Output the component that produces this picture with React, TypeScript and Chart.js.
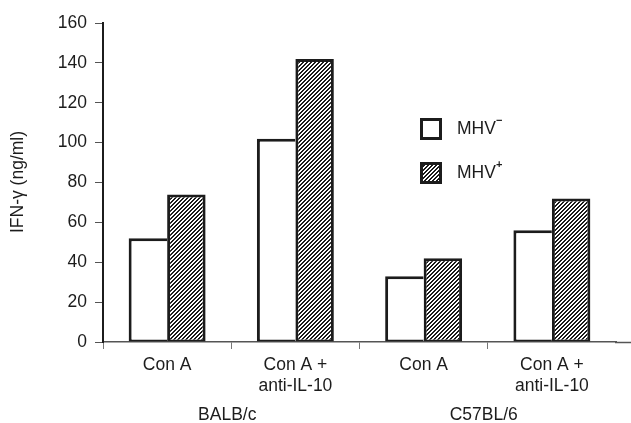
import React, { useEffect, useRef } from "react";
import { Chart, registerables } from "chart.js";

Chart.register(...registerables);

const categories: string[][] = [["Con A"], ["Con A +", "anti-IL-10"], ["Con A"], ["Con A +", "anti-IL-10"]];
const mhvMinus = [52, 102, 33, 56];
const mhvPlus = [74, 142, 42, 72];
const groups = ["BALB/c", "C57BL/6"];
const seriesNames = ["MHV", "MHV"];
const seriesSup = ["\u2212", "+"];
const yTitle = "IFN-\u03b3 (ng/ml)";
const yMin = 0;
const yMax = 160;
const yStep = 20;

const FONT = "'Liberation Sans', Arial, Helvetica, sans-serif";
const INK = "#1c1c1c";
const FS = 17.5;

function makeHatch(): CanvasPattern | string {
  const c = document.createElement("canvas");
  c.width = 4;
  c.height = 4;
  const g = c.getContext("2d");
  if (!g) return "#777";
  g.fillStyle = "#ffffff";
  g.fillRect(0, 0, 4, 4);
  g.fillStyle = "#1a1a1a";
  for (let y = 0; y < 4; y++) {
    for (let x = 0; x < 4; x++) {
      if ((x + y) % 4 < 2) g.fillRect(x, y, 1, 1);
    }
  }
  const p = g.createPattern(c, "repeat");
  return p || "#777";
}

export default function App() {
  const ref = useRef<HTMLCanvasElement | null>(null);

  useEffect(() => {
    const canvas = ref.current;
    if (!canvas) return;
    const hatch = makeHatch();

    const decor = {
      id: "decor",
      afterDraw(chart: any) {
        const ctx = chart.ctx;
        const area = chart.chartArea;
        const xs = chart.scales.x;
        ctx.save();
        ctx.strokeStyle = "#555";
        ctx.lineWidth = 1.5;
        ctx.beginPath();
        ctx.moveTo(area.right - 1, area.bottom + 0.5);
        ctx.lineTo(631, area.bottom + 0.5);
        ctx.stroke();

        ctx.fillStyle = INK;
        ctx.font = `${FS}px ${FONT}`;
        ctx.textAlign = "center";
        ctx.textBaseline = "middle";
        ctx.save();
        ctx.translate(18, 182);
        ctx.rotate(-Math.PI / 2);
        ctx.fillText(yTitle, 0, 0);
        ctx.restore();

        for (let gi = 0; gi < groups.length; gi++) {
          const a = xs.getPixelForValue(gi * 2);
          const b = xs.getPixelForValue(gi * 2 + 1);
          ctx.fillText(groups[gi], (a + b) / 2 - 4, 415);
        }

        const boxX = 420;
        const boxYs = [118, 162];
        for (let i = 0; i < 2; i++) {
          const y = boxYs[i];
          ctx.fillStyle = i === 0 ? "#ffffff" : (hatch as any);
          ctx.fillRect(boxX, y, 22, 22);
          ctx.strokeStyle = INK;
          ctx.lineWidth = 3;
          ctx.strokeRect(boxX + 1.5, y + 1.5, 19, 19);
          ctx.fillStyle = INK;
          ctx.font = `${FS}px ${FONT}`;
          ctx.textAlign = "left";
          ctx.textBaseline = "middle";
          ctx.fillText(seriesNames[i], 457, y + 11);
          const w = ctx.measureText(seriesNames[i]).width;
          ctx.font = `bold 11px ${FONT}`;
          ctx.fillText(seriesSup[i], 457 + w, y + 3);
        }
        ctx.restore();
      },
    };

    const chart = new Chart(canvas, {
      type: "bar",
      data: {
        labels: categories,
        datasets: [
          {
            label: "MHV-",
            data: mhvMinus,
            backgroundColor: "#ffffff",
            borderColor: INK,
            borderWidth: { top: 3, left: 3, right: 0, bottom: 2 } as any,
            borderSkipped: false,
            categoryPercentage: 0.6,
            barPercentage: 1.0,
          },
          {
            label: "MHV+",
            data: mhvPlus,
            backgroundColor: hatch as any,
            borderColor: INK,
            borderWidth: { top: 3, left: 3, right: 3, bottom: 2 } as any,
            borderSkipped: false,
            categoryPercentage: 0.6,
            barPercentage: 1.0,
          },
        ],
      },
      options: {
        animation: false,
        responsive: false,
        devicePixelRatio: 1,
        layout: { padding: { top: 23, right: 15, left: 0, bottom: 0 } },
        plugins: {
          legend: { display: false },
          tooltip: { enabled: false },
          title: { display: false },
        },
        scales: {
          x: {
            offset: true,
            grid: {
              offset: true,
              drawOnChartArea: false,
              drawTicks: true,
              tickLength: 7,
              tickColor: (c: any) => (c.type === "tick" ? "#777" : "rgba(0,0,0,0)"),
              lineWidth: 1,
            },
            border: { display: true, color: "#555", width: 1.5 },
            ticks: {
              color: INK,
              font: { family: FONT, size: FS, lineHeight: 1.24 },
              padding: 5,
              maxRotation: 0,
              autoSkip: false,
            },
            afterFit(scale: any) {
              scale.height = 81;
            },
          },
          y: {
            min: yMin,
            max: yMax,
            grid: {
              drawOnChartArea: false,
              drawTicks: true,
              tickLength: 8,
              tickColor: "#555",
              lineWidth: 1,
            },
            border: { display: true, color: INK, width: 2 },
            ticks: {
              stepSize: yStep,
              color: INK,
              font: { family: FONT, size: FS },
              padding: 8,
            },
            afterFit(scale: any) {
              scale.width = 103;
            },
          },
        },
      },
      plugins: [decor],
    });

    return () => {
      chart.destroy();
    };
  }, []);

  return (
    <div style={{ position: "fixed", left: 0, top: 0, width: 631, height: 423, background: "#fff" }}>
      <canvas ref={ref} width={631} height={423} style={{ display: "block", width: 631, height: 423 }} />
    </div>
  );
}
